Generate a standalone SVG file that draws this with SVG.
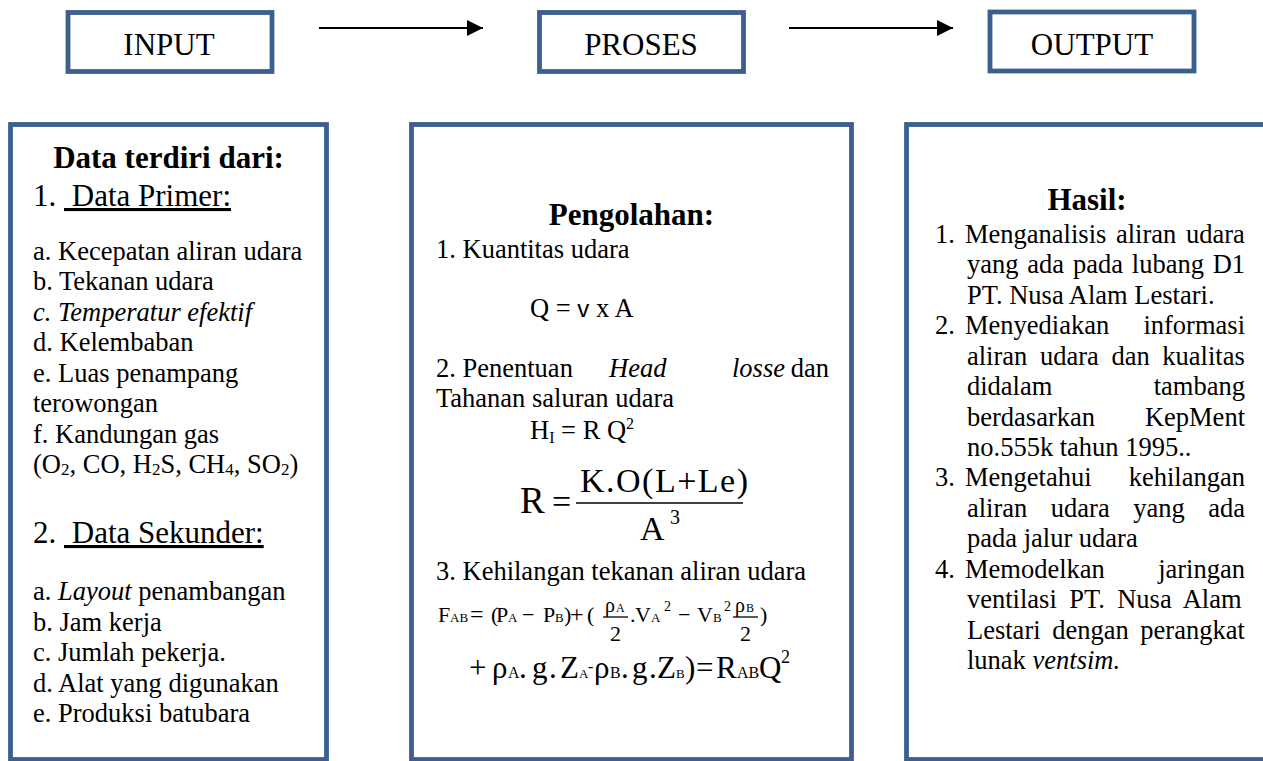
<svg xmlns="http://www.w3.org/2000/svg" width="1263" height="761" viewBox="0 0 1263 761">
<style>
.box{fill:#fff;stroke:#3b5f8f;stroke-width:4.8}
.t{font-family:"Liberation Serif","Times New Roman",serif;font-size:26.5px;fill:#000}
.big{font-size:31px}
.b{font-weight:bold}
.i{font-style:italic}
.c{text-anchor:middle}
.e{text-anchor:end}
.m{font-family:"Liberation Serif","Times New Roman",serif;fill:#000}
.conn{stroke:#000;stroke-width:2.2;fill:none}
.fr{stroke:#000;stroke-width:1.3}
</style>
<defs>
<marker id="ah" markerUnits="userSpaceOnUse" markerWidth="16" markerHeight="16" refX="16" refY="8" orient="auto">
<path d="M0,0 L16,8 L0,16 z" fill="#000"/>
</marker>
</defs>
<rect width="1263" height="761" fill="#fff"/>

<g id="connectors">
<line class="conn" x1="319" y1="28" x2="483" y2="28" marker-end="url(#ah)"/>
<line class="conn" x1="789" y1="28" x2="953" y2="28" marker-end="url(#ah)"/>
</g>

<g id="input">
<rect class="box" x="68" y="12.5" width="204" height="59"/>
<text class="t big c" x="169" y="55">INPUT</text>
</g>
<g id="proses">
<rect class="box" x="539.5" y="12.5" width="204" height="59"/>
<text class="t big c" x="641" y="55">PROSES</text>
</g>
<g id="output">
<rect class="box" x="990" y="12" width="204" height="59"/>
<text class="t big c" x="1092" y="55">OUTPUT</text>
</g>

<g id="input-detail">
<rect class="box" x="10.5" y="124.5" width="316" height="635"/>
<text class="t big b c" x="168.5" y="168">Data terdiri dari:</text>
<text class="t big" x="33" y="206">1.&#160;<tspan text-decoration="underline">&#160;Data Primer:</tspan></text>
<text class="t" x="33" y="260">a. Kecepatan aliran udara</text>
<text class="t" x="33" y="290.4">b. Tekanan udara</text>
<text class="t i" x="33" y="320.9">c. Temperatur efektif</text>
<text class="t" x="33" y="351.3">d. Kelembaban</text>
<text class="t" x="33" y="381.7">e. Luas penampang</text>
<text class="t" x="33" y="412.1">terowongan</text>
<text class="t" x="33" y="442.6">f. Kandungan gas</text>
<text class="t" x="33" y="473">(O<tspan font-size="17" dy="2">2</tspan><tspan dy="-2">, CO, H</tspan><tspan font-size="17" dy="2">2</tspan><tspan dy="-2">S, CH</tspan><tspan font-size="17" dy="2">4</tspan><tspan dy="-2">, SO</tspan><tspan font-size="17" dy="2">2</tspan><tspan dy="-2">)</tspan></text>
<text class="t big" x="33" y="543">2.&#160;<tspan text-decoration="underline">&#160;Data Sekunder:</tspan></text>
<text class="t" x="33" y="600">a. <tspan font-style="italic">Layout</tspan> penambangan</text>
<text class="t" x="33" y="630.5">b. Jam kerja</text>
<text class="t" x="33" y="661">c. Jumlah pekerja.</text>
<text class="t" x="33" y="691.5">d. Alat yang digunakan</text>
<text class="t" x="33" y="722">e. Produksi batubara</text>
</g>

<g id="proses-detail">
<rect class="box" x="411.5" y="124.5" width="440" height="635"/>
<text class="t big b c" x="631.5" y="225">Pengolahan:</text>
<text class="t" x="436" y="258">1. Kuantitas udara</text>
<text class="t" x="530" y="317">Q = <tspan font-family="Liberation Sans, sans-serif" font-size="24">v</tspan> x A</text>
<text class="t" x="436" y="377">2. Penentuan</text>
<text class="t i" x="609" y="377">Head</text>
<text class="t i" x="732" y="377">losse</text>
<text class="t e" x="829" y="377">dan</text>
<text class="t" x="436" y="407">Tahanan saluran udara</text>
<text class="t" x="530" y="439">H<tspan font-size="16" dy="4">I</tspan><tspan dy="-4"> = R Q</tspan><tspan font-size="16" dy="-10">2</tspan></text>
<text class="m" font-size="37" x="520" y="513">R</text>
<text class="m" font-size="34" x="552" y="513">=</text>
<text class="m" font-size="34" x="580" y="492" textLength="168" lengthAdjust="spacing">K.O(L+Le)</text>
<line class="fr" x1="576" y1="503" x2="743" y2="503"/>
<text class="m" font-size="34" x="640" y="540">A</text>
<text class="m" font-size="20" x="670" y="524">3</text>
<text class="t" x="436" y="580">3. Kehilangan tekanan aliran udara</text>
<line class="fr" x1="603" y1="617" x2="628" y2="617"/>
<line class="fr" x1="733" y1="617" x2="758" y2="617"/>
<text class="m" font-size="22" y="622"><tspan x="438">F</tspan><tspan x="450" font-size="13">AB</tspan><tspan x="470" font-size="24">=</tspan><tspan x="491">(</tspan><tspan x="496">P</tspan><tspan x="508" font-size="13">A</tspan><tspan x="522">−</tspan><tspan x="543">P</tspan><tspan x="555" font-size="13">B</tspan><tspan x="564">)</tspan><tspan x="570" font-size="24">+</tspan><tspan x="587">(</tspan><tspan x="605" y="612" font-size="20">ρ</tspan><tspan x="616" y="612" font-size="12">A</tspan><tspan x="610" y="641">2</tspan><tspan x="630" y="622">.</tspan><tspan x="635">V</tspan><tspan x="651" font-size="13">A</tspan><tspan x="664" y="611" font-size="14">2</tspan><tspan x="678" y="622">−</tspan><tspan x="697">V</tspan><tspan x="713" font-size="13">B</tspan><tspan x="724" y="611" font-size="14">2</tspan><tspan x="735" y="612" font-size="20">ρ</tspan><tspan x="746" y="612" font-size="12">B</tspan><tspan x="740" y="641">2</tspan><tspan x="760" y="622">)</tspan></text>
<text class="m" font-size="31" y="678"><tspan x="469">+</tspan><tspan x="492">ρ</tspan><tspan x="508" font-size="16">A</tspan><tspan x="519">.</tspan><tspan x="532">g</tspan><tspan x="549">.</tspan><tspan x="560">Z</tspan><tspan x="579" font-size="13">A</tspan><tspan x="588" y="672" font-size="16">-</tspan><tspan x="594" y="678">ρ</tspan><tspan x="610" font-size="16">B</tspan><tspan x="621">.</tspan><tspan x="632">g</tspan><tspan x="649">.</tspan><tspan x="657">Z</tspan><tspan x="676" font-size="13">B</tspan><tspan x="685">)</tspan><tspan x="696">=</tspan><tspan x="716">R</tspan><tspan x="737" font-size="16">AB</tspan><tspan x="759">Q</tspan><tspan x="781" y="663" font-size="18">2</tspan></text>
</g>

<g id="output-detail">
<rect class="box" x="906.5" y="124.5" width="370" height="635"/>
<text class="t big b c" x="1087" y="210">Hasil:</text>
<text class="t" x="935" y="243">1.</text>
<text class="t" x="965" y="243" word-spacing="3">Menganalisis aliran udara</text>
<text class="t" x="967" y="273.4" word-spacing="2.2">yang ada pada lubang D1</text>
<text class="t" x="967" y="303.9">PT. Nusa Alam Lestari.</text>
<text class="t" x="935" y="334.3">2.</text>
<text class="t" x="965" y="334.3">Menyediakan</text>
<text class="t e" x="1245" y="334.3">informasi</text>
<text class="t" x="967" y="364.7" word-spacing="6">aliran udara dan kualitas</text>
<text class="t" x="967" y="395.1">didalam</text>
<text class="t e" x="1245" y="395.1">tambang</text>
<text class="t" x="967" y="425.6">berdasarkan</text>
<text class="t e" x="1245" y="425.6">KepMent</text>
<text class="t" x="967" y="456">no.555k tahun 1995..</text>
<text class="t" x="935" y="486.4">3.</text>
<text class="t" x="965" y="486.4">Mengetahui</text>
<text class="t e" x="1245" y="486.4">kehilangan</text>
<text class="t" x="967" y="516.9" word-spacing="16.9">aliran udara yang ada</text>
<text class="t" x="967" y="547.3">pada jalur udara</text>
<text class="t" x="935" y="577.7">4.</text>
<text class="t" x="965" y="577.7">Memodelkan</text>
<text class="t e" x="1245" y="577.7">jaringan</text>
<text class="t" x="967" y="608.1" word-spacing="5.8">ventilasi PT. Nusa Alam</text>
<text class="t" x="967" y="638.6" word-spacing="5">Lestari dengan perangkat</text>
<text class="t" x="967" y="669">lunak <tspan font-style="italic">ventsim.</tspan></text>
</g>
</svg>
